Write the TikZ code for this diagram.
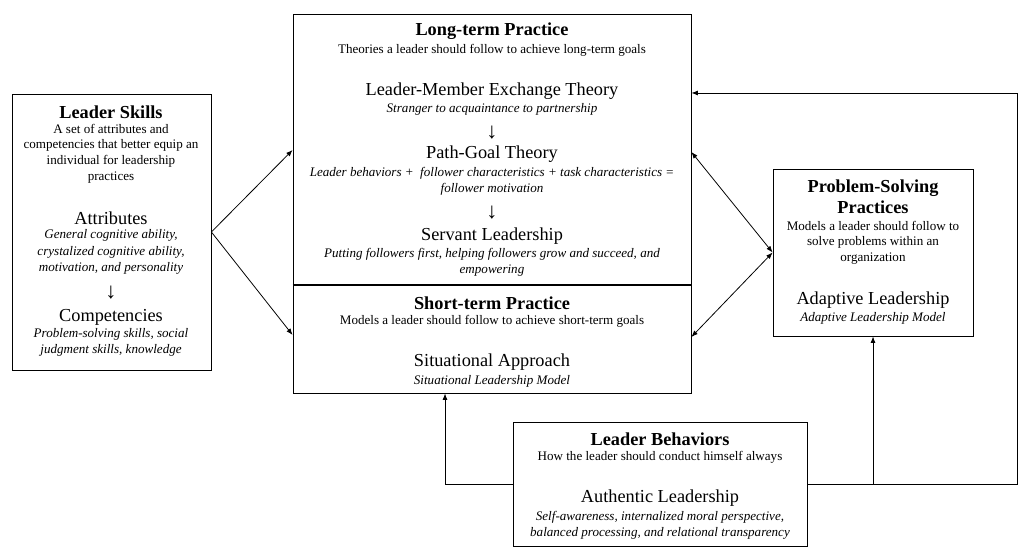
\documentclass[tikz,border=0pt]{standalone}
\usepackage{fontspec}
\setmainfont{Liberation Serif}
\usetikzlibrary{arrows.meta, fit, positioning}
\tikzset{
  >={Latex[length=5pt, width=3.8pt]},
  panel/.style     = {rectangle, draw, line width=0.6pt, inner sep=0pt},
  head/.style      = {font=\fontsize{14}{16}\selectfont\bfseries, align=center, inner sep=0pt},
  note/.style      = {font=\fontsize{10}{12}\selectfont, align=center, inner sep=0pt},
  theory/.style    = {font=\fontsize{14}{16}\selectfont, align=center, inner sep=0pt},
  detail/.style    = {font=\fontsize{10}{12.4}\selectfont\itshape, align=center, inner sep=0pt},
  down/.style      = {font=\fontsize{17}{18}\selectfont, inner sep=0pt},
  link/.style      = {line width=0.6pt, ->},
  twoway/.style    = {line width=0.6pt, <->},
  divider/.style   = {line width=1.3pt}
}

\begin{document}
\begin{tikzpicture}[x=0.765pt, y=-0.765pt]
  \useasboundingbox (0,0) rectangle (1030,553);

  % kaders
  \node[panel, fit={(12,94) (211,370)}]   (skills)   {};
  \node[panel, fit={(293,14) (691,393)}]  (practice) {};
  \node[panel, fit={(773,169) (973,336)}] (problem)  {};
  \node[panel, fit={(513,422) (807,546)}] (behav)    {};

  % Leader Skills (links)
  \node[head]   (skillst) at (111,112)   {Leader Skills};
  \node[note]   (skillsn) at (111,153.5) {A set of attributes and\\competencies that better equip an\\individual for leadership\\practices};
  \node[theory] (attr)    at (111,218)   {Attributes};
  \node[detail] (attrd)   at (111,252)   {General cognitive ability,\\crystalized cognitive ability,\\motivation, and personality};
  \node[down]   (down0)   at (111,293)   {↓};
  \node[theory] (comp)    at (111,317)   {Competencies};
  \node[detail] (compd)   at (111,342)   {Problem-solving skills, social\\judgment skills, knowledge};

  % Long-term Practice (midden boven)
  \node[head]   (longt)   at (492,31)    {Long-term Practice};
  \node[note]   (longn)   at (492,50)    {Theories a leader should follow to achieve long-term goals};
  \node[theory] (lmx)     at (492,91)    {Leader-Member Exchange Theory};
  \node[detail] (lmxd)    at (492,109)   {Stranger to acquaintance to partnership};
  \node[down]   (down1)   at (492,133)   {↓};
  \node[theory] (path)    at (492,154)   {Path-Goal Theory};
  \node[detail] (pathd)   at (492,181.5) {Leader behaviors + \ follower characteristics + task characteristics =\\follower motivation};
  \node[down]   (down2)   at (492,213)   {↓};
  \node[theory] (servant) at (492,236)   {Servant Leadership};
  \node[detail] (servd)   at (492,262)   {Putting followers first, helping followers grow and succeed, and\\empowering};

  % Short-term Practice (midden onder)
  \coordinate (split) at (492,285);
  \node[head]   (shortt)  at (492,303)   {Short-term Practice};
  \node[note]   (shortn)  at (492,321)   {Models a leader should follow to achieve short-term goals};
  \node[theory] (situ)    at (492,362)   {Situational Approach};
  \node[detail] (situd)   at (492,381)   {Situational Leadership Model};

  % Problem-Solving Practices (rechts)
  \node[head]   (probt)   at (873,196.5) {Problem-Solving\\Practices};
  \node[note]   (probn)   at (873,242.5) {Models a leader should follow to\\solve problems within an\\organization};
  \node[theory] (adapt)   at (873,300)   {Adaptive Leadership};
  \node[detail] (adaptd)  at (873,318)   {Adaptive Leadership Model};

  % Leader Behaviors (onder)
  \node[head]   (behavt)  at (660,439)   {Leader Behaviors};
  \node[note]   (behavn)  at (660,457)   {How the leader should conduct himself always};
  \node[theory] (auth)    at (660,498)   {Authentic Leadership};
  \node[detail] (authd)   at (660,525.5) {Self-awareness, internalized moral perspective,\\balanced processing, and relational transparency};

  \draw[divider] (practice.west |- split) -- (practice.east |- split);

  \draw[link] (skills.east) -- (practice.west |- 0,150);
  \draw[link] (skills.east) -- (practice.west |- 0,335);

  \draw[twoway] (practice.east |- 0,152) -- (problem.west);
  \draw[twoway] (practice.east |- 0,337) -- (problem.west);

  \coordinate (bend) at (1017,93);
  \draw[link] (behav.west) -| (practice.south -| 445,0);
  \draw[link] (behav.east) -| (bend) -- (practice.east |- bend);
  \draw[link] (problem.south |- behav.east) -- (problem.south);

\end{tikzpicture}
\end{document}
